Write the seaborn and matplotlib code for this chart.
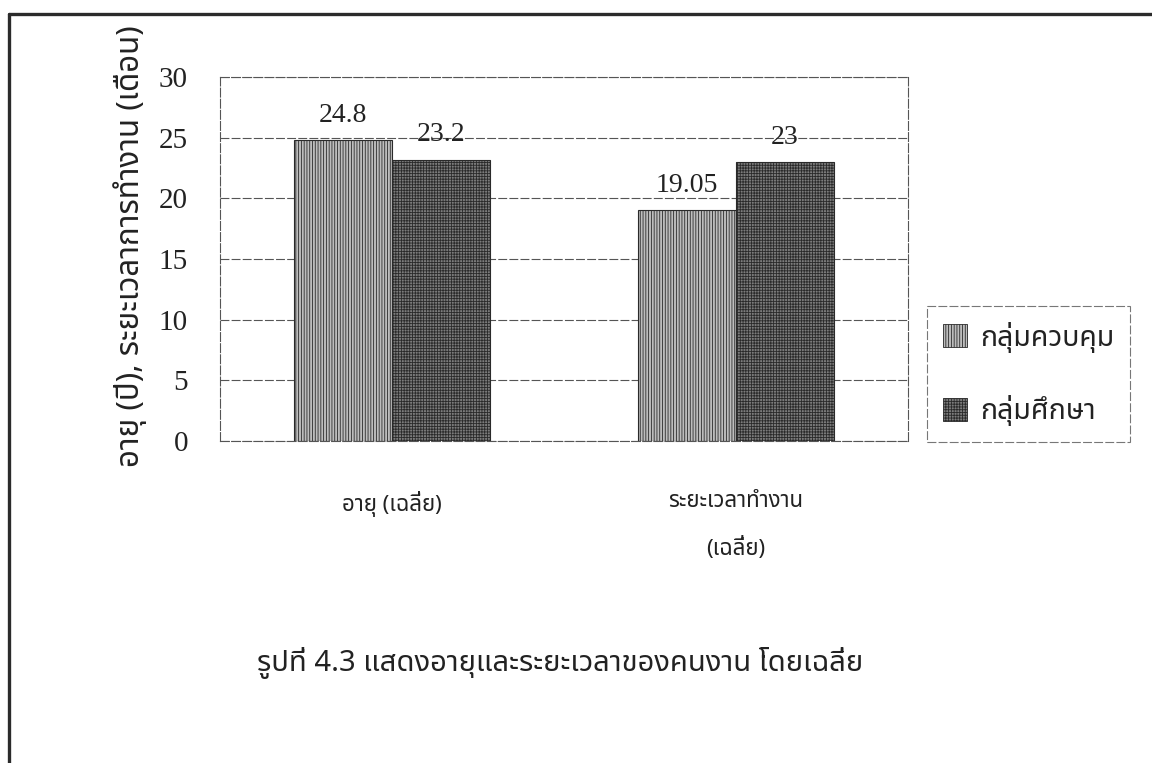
import matplotlib
matplotlib.use("Agg")
import matplotlib.pyplot as plt
from matplotlib import font_manager as fm
from matplotlib.ft2font import FT2Font
from matplotlib.patches import Patch
from matplotlib.lines import Line2D
import seaborn as sns
import pandas as pd

# ---- data -------------------------------------------------------------
categories = ["อายุ (เฉลี่ย)", "ระยะเวลาทำงาน\n(เฉลี่ย)"]
groups = ["กลุ่มควบคุม", "กลุ่มศึกษา"]
control_values = [24.8, 19.05]
study_values = [23.2, 23]
value_labels_control = ["24.8", "19.05"]
value_labels_study = ["23.2", "23"]
y_ticks = [0, 5, 10, 15, 20, 25, 30]
y_label = "อายุ (ปี), ระยะเวลาการทำงาน (เดือน)"
caption = "รูปที่ 4.3 แสดงอายุและระยะเวลาของคนงาน โดยเฉลี่ย"


def find_thai_family():
    """Return the name of an installed font family that has Thai glyphs."""
    found = []
    for f in fm.fontManager.ttflist:
        try:
            cmap = FT2Font(f.fname).get_charmap()
        except Exception:
            continue
        if 0x0E01 in cmap and 0x0E33 in cmap and 0x0E48 in cmap:
            found.append(f.name)
    preferred = ["Noto Sans Thai", "Noto Serif Thai", "Loma", "Garuda",
                 "Norasi", "Kinnari", "Laksaman", "Sawasdee", "Umpush"]
    for p in preferred:
        if p in found:
            return p
    return found[0] if found else None


sns.set_theme(style="white")
thai = find_thai_family()
families = ([thai] if thai else []) + ["DejaVu Sans"]
plt.rcParams["font.family"] = families
plt.rcParams["hatch.linewidth"] = 0.6
serif = ["Liberation Serif", "DejaVu Serif"]
ink = "#222222"
rule = "#555555"

df = pd.DataFrame({
    "category": categories * 2,
    "group": [groups[0]] * len(categories) + [groups[1]] * len(categories),
    "value": control_values + study_values,
})

fig = plt.figure(figsize=(11.52, 7.63), dpi=100)
fig.patch.set_facecolor("white")
ax = fig.add_axes([220 / 1152, 1 - 441 / 763, 688 / 1152, 364 / 763])

styles = {
    groups[0]: dict(face="#bdbdbd", hatch="||||||"),
    groups[1]: dict(face="#7c7c7c", hatch="++++++"),
}

sns.barplot(data=df, x="category", y="value", hue="group", order=categories,
            hue_order=groups, width=0.57, gap=0, errorbar=None, legend=False,
            ax=ax, palette=[styles[g]["face"] for g in groups], saturation=1)

for container, g in zip(ax.containers, groups):
    for bar in container:
        bar.set_facecolor(styles[g]["face"])
        bar.set_hatch(styles[g]["hatch"])
        bar.set_edgecolor("#2a2a2a")
        bar.set_linewidth(0.8)

# value labels above each bar
for container, labels in zip(ax.containers, [value_labels_control, value_labels_study]):
    for bar, lab in zip(container, labels):
        ax.annotate(lab, (bar.get_x() + bar.get_width() / 2, bar.get_height()),
                    xytext=(0, 13), textcoords="offset points",
                    ha="center", va="baseline", fontsize=20,
                    family=serif, color=ink)

ax.set_xlim(-0.5, 1.5)
ax.set_ylim(0, 30)
ax.set_yticks(y_ticks)
ax.set_yticklabels([str(t) for t in y_ticks], family=serif, fontsize=21, color=ink)
ax.set_xticks(range(len(categories)))
ax.set_xticklabels(categories, fontsize=16, linespacing=2.4, color=ink)
ax.tick_params(axis="x", length=0, pad=36)
ax.tick_params(axis="y", length=7, width=0.8, direction="out", color=rule, pad=16)
ax.set_xticks([-0.5, 0.5, 1.5], minor=True)
ax.tick_params(axis="x", which="minor", length=7, width=0.8, direction="out", color=rule)
ax.set_xlabel("")
ax.set_ylabel("")

ax.yaxis.grid(True, color=rule, linewidth=0.8, linestyle=(0, (8, 2)))
ax.set_axisbelow(True)
for s in ax.spines.values():
    s.set_visible(True)
    s.set_color(rule)
    s.set_linewidth(0.8)
    s.set_linestyle((0, (8, 2)))

fig.text(130 / 1152, 1 - 246 / 763, y_label, rotation=90, ha="center", va="center",
         fontsize=22.5, color=ink)

handles = [Patch(facecolor=styles[g]["face"], hatch=styles[g]["hatch"],
                 edgecolor="#2a2a2a", linewidth=0.6) for g in groups]
leg = fig.legend(handles, groups, loc="upper left",
                 bbox_to_anchor=(927 / 1152, 1 - 306 / 763),
                 fontsize=20.5, frameon=True, fancybox=False,
                 handlelength=0.85, handleheight=0.85, handletextpad=0.45,
                 labelspacing=1.5, borderpad=0.55, borderaxespad=0)
leg.get_frame().set_edgecolor(rule)
leg.get_frame().set_linewidth(0.8)
leg.get_frame().set_linestyle((0, (8, 2)))
for t in leg.get_texts():
    t.set_color(ink)

fig.text(560 / 1152, 1 - 663 / 763, caption, ha="center", va="center",
         fontsize=21, color=ink)

# page frame (left and top edges)
fig.add_artist(Line2D([9 / 1152, 9 / 1152], [0, 1 - 14 / 763], color="#2b2b2b",
                      linewidth=2.4, transform=fig.transFigure))
fig.add_artist(Line2D([9 / 1152, 1], [1 - 14 / 763, 1 - 14 / 763], color="#2b2b2b",
                      linewidth=2.4, transform=fig.transFigure))

fig.savefig("out.png", dpi=100, facecolor="white")
